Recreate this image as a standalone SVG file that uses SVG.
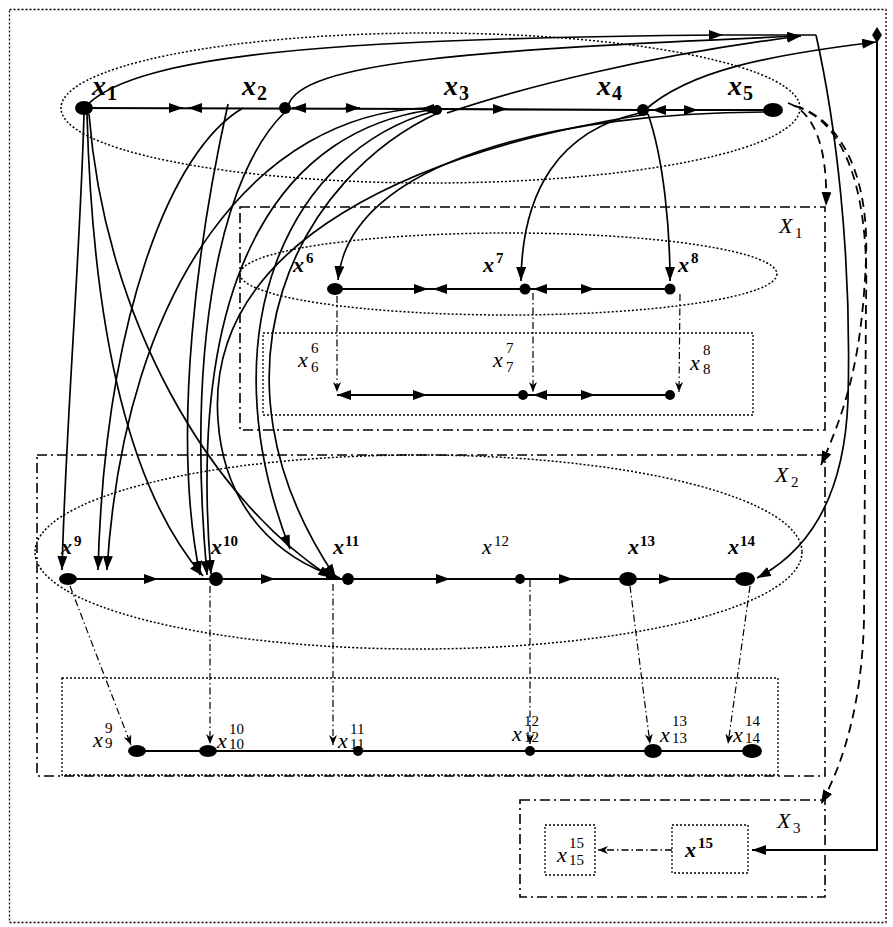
<svg xmlns="http://www.w3.org/2000/svg" width="893" height="927" viewBox="0 0 893 927">
  <style>
    .frame { fill: none; stroke: #000; stroke-width: 1.3; stroke-dasharray: 2 2; }
    .set { fill: none; stroke: #000; stroke-width: 1.6; stroke-dasharray: 10 4 2 4; }
    .oval { fill: none; stroke: #000; stroke-width: 1.5; stroke-dasharray: 2 2; }
    .row { fill: none; stroke: #000; stroke-width: 2.2; }
    .arc { fill: none; stroke: #000; stroke-width: 1.7; }
    .tip { fill: none; stroke: #000; stroke-width: 2; marker-end: url(#ah); }
    .arr { marker-end: url(#ah); }
    .proj { fill: none; stroke: #000; stroke-width: 1.2; stroke-dasharray: 7 3 1.5 3; marker-end: url(#ahs); }
    .dash { fill: none; stroke: #000; stroke-width: 1.8; stroke-dasharray: 9 6; marker-end: url(#ah); }
    .pt { fill: #000; }
    text { font-family: "Liberation Serif", "Times New Roman", serif; fill: #000; }
    .bx { font-size: 28px; font-style: italic; font-weight: bold; }
    .bs { font-size: 20px; font-weight: bold; }
    .mx { font-size: 22px; font-style: italic; font-weight: bold; }
    .ms { font-size: 15px; font-weight: bold; }
    .rx { font-size: 22px; font-style: italic; }
    .rs { font-size: 15px; }
    .sx { font-size: 22px; font-style: italic; }
  </style>
  <defs>
    <marker id="ah" viewBox="0 0 14 10" refX="14" refY="5" markerWidth="14" markerHeight="10" markerUnits="userSpaceOnUse" orient="auto">
      <path d="M0,0 L14,5 L0,10 z" fill="#000"/>
    </marker>
    <marker id="ahs" viewBox="0 0 10 8" refX="10" refY="4" markerWidth="10" markerHeight="8" markerUnits="userSpaceOnUse" orient="auto">
      <path d="M0,0 L10,4 L0,8 L3,4 z" fill="#000"/>
    </marker>
  </defs>

  <!-- outer frame -->
  <rect class="frame" x="9.5" y="9.5" width="876.5" height="913"/>

  <!-- set boxes and level ovals -->
  <g id="set-X1">
    <rect class="set" x="240" y="207" width="585" height="223"/>
    <ellipse class="oval" cx="508.5" cy="274" rx="268.5" ry="41"/>
    <rect class="frame" x="263" y="333" width="490" height="82"/>
    <text class="sx" x="779" y="233">X</text><text class="rs" x="795" y="238">1</text>
  </g>
  <g id="set-X2">
    <rect class="set" x="37" y="455" width="788" height="321"/>
    <ellipse class="oval" cx="418.5" cy="552" rx="383.5" ry="97"/>
    <rect class="frame" x="62" y="678" width="716" height="97"/>
    <text class="sx" x="775" y="482">X</text><text class="rs" x="791" y="487">2</text>
  </g>
  <g id="set-X3">
    <rect class="set" x="520" y="800" width="305" height="97"/>
    <text class="sx" x="777" y="828">X</text><text class="rs" x="793" y="833">3</text>
  </g>
  <ellipse id="top-level" class="oval" cx="430.5" cy="108" rx="369.5" ry="75"/>

  <!-- connectors -->
  <g id="connectors">
    <!-- top chain -->
    <polyline class="row" points="84,108 437,109 643,110 773,110"/>
    <path class="tip" d="M170,108 L183,108"/>
    <path class="tip" d="M200,108 L188,108"/>
    <path class="tip" d="M305,108 L292,108"/>
    <path class="tip" d="M345,108 L360,108"/>
    <path class="tip" d="M432,109 L420,109"/>
    <path class="tip" d="M495,109 L507,109"/>
    <path class="tip" d="M665,110 L652,110"/>
    <path class="tip" d="M685,110 L698,110"/>

    <!-- X1 chains -->
    <line class="row" x1="335" y1="289" x2="670" y2="289"/>
    <path class="tip" d="M415,289 L428,289"/>
    <path class="tip" d="M446,289 L433,289"/>
    <path class="tip" d="M546,289 L533,289"/>
    <path class="tip" d="M582,289 L595,289"/>
    <line class="row" x1="337" y1="395" x2="670" y2="395"/>
    <path class="tip" d="M350,395 L337,395"/>
    <path class="tip" d="M414,395 L427,395"/>
    <path class="tip" d="M546,395 L533,395"/>
    <path class="tip" d="M582,395 L595,395"/>

    <!-- X2 chains -->
    <line class="row" x1="68" y1="579" x2="745" y2="579"/>
    <path class="tip" d="M145,579 L158,579"/>
    <path class="tip" d="M262,579 L275,579"/>
    <path class="tip" d="M437,579 L450,579"/>
    <path class="tip" d="M560,579 L573,579"/>
    <path class="tip" d="M660,579 L673,579"/>
    <line class="row" x1="137" y1="751" x2="752" y2="751"/>

    <!-- projections -->
    <path class="proj" d="M337,296 L337,392"/>
    <path class="proj" d="M533,293 L533,392"/>
    <path class="proj" d="M680,294 L679,392"/>
    <path class="proj" d="M70,586 L131,745"/>
    <path class="proj" d="M210,586 L210,744"/>
    <path class="proj" d="M333,584 L333,745"/>
    <path class="proj" d="M530,580 L530,744"/>
    <path class="proj" d="M630,586 L650,744"/>
    <path class="proj" d="M750,586 L728,744"/>
    <path class="proj" d="M672,850 L598,850" style="stroke-width:1.6"/>

    <!-- links from the top level down -->
    <path class="arc arr" d="M84,114 C80,260 66,420 62,570"/>
    <path class="arc arr" d="M87,114 C92,300 120,480 203,576"/>
    <path class="arc arr" d="M89,114 C105,320 210,500 332,578"/>
    <path class="arc arr" d="M243,108 C170,150 105,320 98,570"/>
    <path class="arc arr" d="M228,104 C200,230 170,430 200,575"/>
    <path class="arc arr" d="M285,112 C225,170 185,330 207,575"/>
    <path class="arc arr" d="M425,108 C260,115 125,280 107,570"/>
    <path class="arc arr" d="M430,110 C290,130 185,260 211,574"/>
    <path class="arc arr" d="M435,111 C290,150 205,330 290,549"/>
    <path class="arc arr" d="M440,112 C300,175 195,370 336,578"/>
    <path class="arc arr" d="M648,114 C420,150 205,240 218,420 C224,510 280,560 340,578"/>
    <path class="arc arr" d="M770,112 C560,112 350,160 338,280"/>
    <path class="arc arr" d="M640,113 C560,130 522,190 521,281"/>
    <path class="arc arr" d="M648,114 C664,160 670,230 670,281"/>

    <!-- links over the top -->
    <path class="arc arr" d="M645,110 C690,70 770,55 876,42"/>
    <path class="arc arr" d="M88,104 C140,55 330,38 723,35"/>
    <path class="arc" d="M723,35 L816,35"/>
    <path class="arc arr" d="M288,106 C300,62 470,50 801,36"/>
    <path class="arc arr" d="M447,113 C520,88 650,55 801,36"/>
    <path class="arc arr" d="M816,35 C835,120 852,250 848,400 C845,480 820,545 757,578"/>
    <path class="arc arr" d="M877,35 L877,850 L752,850" style="stroke-width:2"/>
    <polygon class="pt" points="877,27 882,35 877,43 872,35"/>

    <!-- set membership -->
    <path class="dash" d="M788,103 C815,112 828,150 826,206"/>
    <path class="dash" d="M795,106 C830,115 870,160 866,260 C862,350 850,400 821,465"/>
    <path class="dash" d="M795,106 C835,118 870,170 866,300 L864,620 C862,700 845,760 821,804"/>
  </g>

  <!-- top level nodes -->
  <g id="x1"><ellipse class="pt" cx="84" cy="108" rx="9" ry="7"/><text class="bx" x="92" y="95">x</text><text class="bs" x="107" y="100">1</text></g>
  <g id="x2"><circle class="pt" cx="285" cy="108" r="6"/><text class="bx" x="242" y="95">x</text><text class="bs" x="257" y="100">2</text></g>
  <g id="x3"><circle class="pt" cx="437" cy="110" r="5"/><text class="bx" x="444" y="95">x</text><text class="bs" x="459" y="100">3</text></g>
  <g id="x4"><circle class="pt" cx="643" cy="110" r="6"/><text class="bx" x="597" y="95">x</text><text class="bs" x="612" y="100">4</text></g>
  <g id="x5"><ellipse class="pt" cx="773" cy="110" rx="10" ry="7"/><text class="bx" x="728" y="95">x</text><text class="bs" x="743" y="100">5</text></g>

  <!-- X1 level -->
  <g id="x6"><ellipse class="pt" cx="335" cy="289" rx="8" ry="6"/><text class="mx" x="293" y="272">x</text><text class="ms" x="306" y="263">6</text></g>
  <g id="x7"><circle class="pt" cx="525" cy="289" r="5.5"/><text class="mx" x="483" y="272">x</text><text class="ms" x="496" y="263">7</text></g>
  <g id="x8"><circle class="pt" cx="670" cy="289" r="5.5"/><text class="mx" x="678" y="272">x</text><text class="ms" x="691" y="263">8</text></g>
  <g id="x6-6"><text class="rx" x="298" y="367">x</text><text class="rs" x="311" y="353">6</text><text class="rs" x="311" y="372">6</text></g>
  <g id="x7-7"><circle class="pt" cx="523" cy="395" r="5"/><text class="rx" x="493" y="367">x</text><text class="rs" x="506" y="353">7</text><text class="rs" x="506" y="372">7</text></g>
  <g id="x8-8"><circle class="pt" cx="670" cy="395" r="5"/><text class="rx" x="690" y="370">x</text><text class="rs" x="703" y="355">8</text><text class="rs" x="703" y="374">8</text></g>

  <!-- X2 level -->
  <g id="x9"><ellipse class="pt" cx="68" cy="579" rx="9" ry="6"/><text class="mx" x="61" y="554">x</text><text class="ms" x="74" y="546">9</text></g>
  <g id="x10"><ellipse class="pt" cx="216" cy="579" rx="7" ry="7"/><text class="mx" x="211" y="554">x</text><text class="ms" x="223" y="546">10</text></g>
  <g id="x11"><circle class="pt" cx="348" cy="579" r="6"/><text class="mx" x="333" y="554">x</text><text class="ms" x="345" y="546">11</text></g>
  <g id="x12"><circle class="pt" cx="520" cy="579" r="5"/><text class="rx" x="482" y="554">x</text><text class="rs" x="494" y="546">12</text></g>
  <g id="x13"><ellipse class="pt" cx="628" cy="579" rx="9" ry="7"/><text class="mx" x="628" y="554">x</text><text class="ms" x="640" y="546">13</text></g>
  <g id="x14"><ellipse class="pt" cx="745" cy="579" rx="10" ry="7"/><text class="mx" x="728" y="554">x</text><text class="ms" x="740" y="546">14</text></g>
  <g id="x9-9"><ellipse class="pt" cx="137" cy="751" rx="9" ry="6"/><text class="rx" x="93" y="747">x</text><text class="rs" x="105" y="733">9</text><text class="rs" x="105" y="748">9</text></g>
  <g id="x10-10"><ellipse class="pt" cx="208" cy="751" rx="9" ry="6"/><text class="rx" x="217" y="748">x</text><text class="rs" x="229" y="734">10</text><text class="rs" x="229" y="749">10</text></g>
  <g id="x11-11"><circle class="pt" cx="358" cy="751" r="5"/><text class="rx" x="338" y="748">x</text><text class="rs" x="350" y="734">11</text><text class="rs" x="350" y="749">11</text></g>
  <g id="x12-12"><circle class="pt" cx="530" cy="751" r="5"/><text class="rx" x="512" y="741">x</text><text class="rs" x="524" y="726">12</text><text class="rs" x="524" y="742">12</text></g>
  <g id="x13-13"><ellipse class="pt" cx="653" cy="751" rx="9" ry="7"/><text class="rx" x="660" y="742">x</text><text class="rs" x="672" y="726">13</text><text class="rs" x="672" y="743">13</text></g>
  <g id="x14-14"><ellipse class="pt" cx="752" cy="751" rx="10" ry="7"/><text class="rx" x="733" y="742">x</text><text class="rs" x="745" y="726">14</text><text class="rs" x="745" y="743">14</text></g>

  <!-- X3 level -->
  <g id="x15"><rect class="frame" x="672" y="825" width="76" height="48"/><text class="mx" x="685" y="857">x</text><text class="ms" x="698" y="848">15</text></g>
  <g id="x15-15"><rect class="frame" x="545" y="825" width="50" height="50"/><text class="rx" x="557" y="862">x</text><text class="rs" x="569" y="848">15</text><text class="rs" x="569" y="865">15</text></g>
</svg>
